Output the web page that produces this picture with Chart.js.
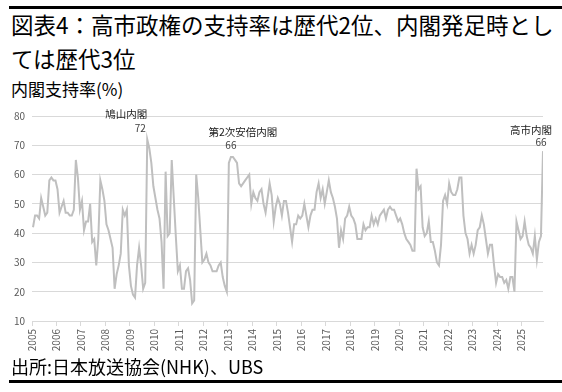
<!DOCTYPE html>
<html lang="ja">
<head>
<meta charset="utf-8">
<script src="https://cdn.jsdelivr.net/npm/chart.js@4"></script>
<style>
  html, body { margin: 0; padding: 0; background: #fff; }
  body { width: 562px; height: 392px; position: relative; overflow: hidden;
         font-family: "Noto Sans CJK JP", "Noto Sans", sans-serif; color: #000; }
  .rule { position: absolute; left: 9px; right: 0; height: 3px; background: #000; }
  .rule.top { top: 6px; }
  .rule.bottom { top: 380px; }
  #title { position: absolute; left: 11px; top: 7px; font-size: 22.5px; line-height: 34px; white-space: nowrap; }
  #subtitle { position: absolute; left: 11px; top: 79px; font-size: 17px; line-height: 20px; }
  #source { position: absolute; left: 11px; top: 355px; font-size: 18px; line-height: 22px; }
  #chart { position: absolute; left: 0; top: 100px; }
</style>
</head>
<body>
<div class="rule top"></div>
<div id="title">図表4：高市政権の支持率は歴代2位、内閣発足時とし<br>ては歴代3位</div>
<div id="subtitle">内閣支持率(%)</div>
<canvas id="chart" width="562" height="262"></canvas>
<div id="source">出所:日本放送協会(NHK)、UBS</div>
<div class="rule bottom"></div>

<script>
// --- Data (NHK monthly cabinet approval, %) ---
const startYear = 2005;
const years = [2005, 2006, 2007, 2008, 2009, 2010, 2011, 2012, 2013, 2014, 2015,
               2016, 2017, 2018, 2019, 2020, 2021, 2022, 2023, 2024, 2025];
const yTicks = [10, 20, 30, 40, 50, 60, 70, 80];

const approval = [
  42, 46, 46, 45, 52, 49, 46, 47, 58, 59, 58, 58, // 2005
  55, 47, 49, 51, 47, 47, 46, 46, 48, 65, 59, 48, // 2006
  51, 41, 44, 44, 50, 37, 38, 29, 38, 58, 55, 51, // 2007
  43, 41, 38, 35, 21, 26, 29, 33, 48, 46, 48, 29, // 2008
  22, 19, 18, 29, 35, 29, 21, 23, 72, 69, 64, 56, // 2009
  52, 48, 45, 37, 21, 61, 39, 40, 65, 52, 39, 27, // 2010
  29, 21, 21, 27, 28, 24, 16, 17, 60, 52, 41, 30, // 2011
  31, 33, 30, 29, 27, 27, 27, 29, 30, 25, 22, 20, // 2012
  64, 66, 66, 65, 64, 57, 56, 57, 58, 59, 60, 50, // 2013
  54, 52, 51, 54, 55, 50, 47, 52, 57, 53, 44, 49, // 2014
  52, 50, 46, 51, 51, 47, 42, 37, 43, 43, 46, 45, // 2015
  46, 50, 46, 42, 46, 48, 48, 54, 57, 52, 55, 50, // 2016
  54, 58, 54, 52, 49, 45, 35, 41, 38, 45, 46, 49, // 2017
  46, 45, 43, 38, 38, 38, 43, 41, 42, 42, 46, 43, // 2018
  45, 43, 46, 47, 48, 45, 48, 49, 48, 48, 46, 44, // 2019
  45, 43, 40, 38, 37, 36, 34, 34, 62, 55, 56, 42, // 2020
  39, 40, 44, 37, 37, 34, 30, 29, 36, 51, 53, 50, // 2021
  57, 54, 53, 53, 55, 59, 59, 46, 40, 38, 33, 36, // 2022
  33, 36, 41, 42, 46, 43, 38, 33, 36, 36, 29, 23, // 2023
  26, 25, 25, 23, 24, 21, 25, 25, 20, 44, 41, 38, // 2024
  39, 44, 39, 36, 35, 33, 39, 31, 37, 39, 68      // 2025 (to Nov)
];

// cabinets called out on the chart
const cabinetNames = ['鳩山内閣', '第2次安倍内閣', '高市内閣'];
const cabinetMonth = [56, 97, 250];   // index into approval
const cabinetRates = [72, 66, 66];

// --- Helpers ---
function monthX(i) { return startYear + (i + 0.5) / 12; }

// label placement relative to (month, rate) in px
const labelOffsets = [
  { num: [-7, -11], name: [-21, -25] },
  { num: [0, -12], name: [12, -25] },
  { num: [-2, -15], name: [-12, -27] }
];

const cabinetLabels = {
  id: 'cabinetLabels',
  afterDatasetsDraw(chart) {
    const ctx = chart.ctx;
    const xs = chart.scales.x, ys = chart.scales.y;
    ctx.save();
    ctx.textAlign = 'center';
    ctx.textBaseline = 'middle';
    cabinetNames.forEach((name, i) => {
      const px = xs.getPixelForValue(monthX(cabinetMonth[i]));
      const py = ys.getPixelForValue(cabinetRates[i]);
      const o = labelOffsets[i];
      ctx.font = '10.5px "Noto Sans CJK JP"';
      ctx.fillStyle = '#1a1a1a';
      ctx.fillText(name, px + o.name[0], py + o.name[1]);
      ctx.font = '10px "Noto Sans CJK JP"';
      ctx.fillStyle = '#404040';
      ctx.fillText(String(cabinetRates[i]), px + o.num[0], py + o.num[1]);
    });
    ctx.restore();
  }
};

Chart.defaults.font.family = '"Noto Sans CJK JP", "Noto Sans", sans-serif';
Chart.defaults.color = '#595959';

const points = approval.map((v, i) => ({ x: monthX(i), y: v }));

new Chart(document.getElementById('chart'), {
  type: 'line',
  data: {
    datasets: [{
      data: points,
      borderColor: '#bfbfbf',
      borderWidth: 2,
      pointRadius: 0,
      tension: 0,
      fill: false
    }]
  },
  options: {
    responsive: false,
    animation: false,
    layout: { padding: { top: 16, right: 19, left: 0, bottom: 0 } },
    plugins: { legend: { display: false }, tooltip: { enabled: false } },
    scales: {
      x: {
        type: 'linear',
        min: startYear,
        max: monthX(approval.length - 1),
        afterBuildTicks: (scale) => { scale.ticks = years.map(v => ({ value: v })); },
        afterFit: (scale) => { scale.height = 41; },
        grid: { drawOnChartArea: false, drawTicks: true, tickLength: 5, color: '#d9d9d9' },
        border: { display: true, color: '#d9d9d9' },
        ticks: {
          autoSkip: false, includeBounds: false,
          minRotation: 90, maxRotation: 90, padding: 3,
          font: { size: 10 }, color: '#595959',
          callback: (v) => String(v)
        }
      },
      y: {
        min: 10, max: 80,
        afterBuildTicks: (scale) => { scale.ticks = yTicks.map(v => ({ value: v })); },
        afterFit: (scale) => { scale.width = 32; },
        grid: { color: '#d9d9d9', drawTicks: false },
        border: { display: false },
        ticks: { padding: 7, font: { size: 10 }, color: '#595959' }
      }
    }
  },
  plugins: [cabinetLabels]
});
</script>
</body>
</html>
